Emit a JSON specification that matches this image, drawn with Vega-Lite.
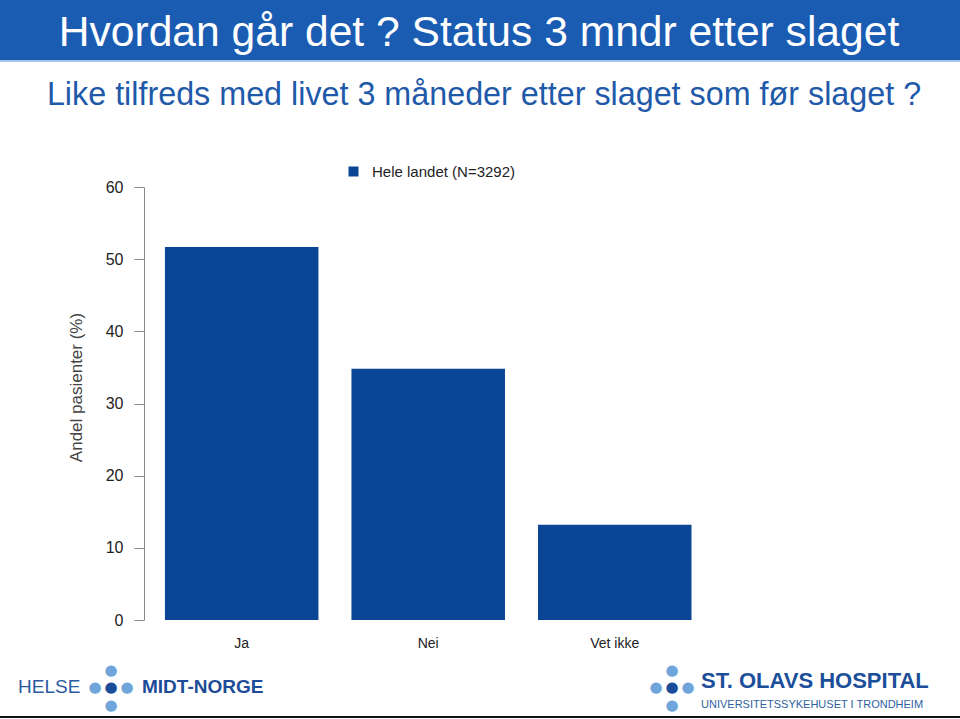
{
  "$schema": "https://vega.github.io/schema/vega-lite/v6.json",
  "padding": 0,
  "spacing": 0,
  "bounds": "flush",
  "background": "white",
  "config": {"font": "Liberation Sans", "view": {"stroke": null}},
  "resolve": {"scale": {"color": "independent", "x": "independent", "y": "independent"}, "legend": {"color": "independent"}},
  "datasets": {
    "answers": [
      {"svar": "Ja", "andel": 51.7, "gruppe": "Hele landet (N=3292)"},
      {"svar": "Nei", "andel": 34.8, "gruppe": "Hele landet (N=3292)"},
      {"svar": "Vet ikke", "andel": 13.2, "gruppe": "Hele landet (N=3292)"}
    ],
    "header": [{"tekst": "Hvordan går det ? Status 3 mndr etter slaget"}],
    "subtitle": [{"tekst": "Like tilfreds med livet 3 måneder etter slaget som før slaget ?"}],
    "footer": [
      {"logo": "left", "row": "mid", "part": "helse", "tekst": "HELSE"},
      {"logo": "left", "row": "mid", "part": "midtnorge", "tekst": "MIDT-NORGE"},
      {"logo": "right", "row": "mid", "part": "stolavs", "tekst": "ST. OLAVS HOSPITAL"},
      {"logo": "right", "row": "bot", "part": "tagline", "tekst": "UNIVERSITETSSYKEHUSET I TRONDHEIM"},
      {"logo": "left", "row": "top", "part": "dotcol", "tone": "light", "tekst": "●"},
      {"logo": "left", "row": "mid", "part": "dotcol", "tone": "dark", "tekst": "●"},
      {"logo": "left", "row": "bot", "part": "dotcol", "tone": "light", "tekst": "●"},
      {"logo": "right", "row": "top", "part": "dotcol", "tone": "light", "tekst": "●"},
      {"logo": "right", "row": "mid", "part": "dotcol", "tone": "dark", "tekst": "●"},
      {"logo": "right", "row": "bot", "part": "dotcol", "tone": "light", "tekst": "●"},
      {"logo": "left", "row": "mid", "part": "dotleft", "tone": "light", "tekst": "●"},
      {"logo": "right", "row": "mid", "part": "dotleft", "tone": "light", "tekst": "●"},
      {"logo": "left", "row": "mid", "part": "dotright", "tone": "light", "tekst": "●"},
      {"logo": "right", "row": "mid", "part": "dotright", "tone": "light", "tekst": "●"}
    ],
    "spacer": [{"part": "spacer"}],
    "headerline": [{"part": "line"}],
    "bottomline": [{"part": "line"}]
  },
  "vconcat": [
    {
      "width": 960,
      "height": 60,
      "view": {"fill": "#1b5cb3", "stroke": null},
      "data": {"name": "header"},
      "mark": {"type": "text", "color": "white", "fontSize": 42.6, "baseline": "alphabetic", "align": "center", "dy": 16, "dx": -1},
      "encoding": {"text": {"field": "tekst"}}
    },
    {
      "width": 960,
      "height": 2,
      "view": {"fill": "#a9c4e8", "stroke": null},
      "data": {"name": "headerline"},
      "mark": {"type": "text", "text": ""},
      "encoding": {}
    },
    {
      "width": 960,
      "height": 125,
      "data": {"name": "subtitle"},
      "mark": {"type": "text", "color": "#1f5aaa", "fontSize": 32.3, "baseline": "alphabetic", "align": "center", "dy": -19.5, "dx": 4},
      "encoding": {"text": {"field": "tekst"}}
    },
    {
      "width": 712,
      "height": 433,
      "data": {"name": "answers"},
      "mark": {"type": "bar"},
      "encoding": {
        "x": {
          "field": "svar", "type": "nominal", "sort": ["Ja", "Nei", "Vet ikke"],
          "scale": {"paddingInner": 0.177, "paddingOuter": 0.497, "align": 0.8895},
          "axis": {"title": null, "labelAngle": 0, "domain": false, "ticks": false, "labelPadding": 16, "labelFontSize": 14, "labelColor": "#222222"}
        },
        "y": {
          "field": "andel", "type": "quantitative",
          "scale": {"domain": [0, 60], "nice": false},
          "axis": {
            "title": "Andel pasienter (%)", "values": [0, 10, 20, 30, 40, 50, 60], "offset": -144, "grid": false,
            "domainColor": "#8a8a8a", "tickColor": "#8a8a8a", "tickSize": 10, "labelPadding": 11, "labelFontSize": 16,
            "labelColor": "#222222", "titleFontSize": 17, "titleFontWeight": "normal", "titleColor": "#444444",
            "titlePadding": 20, "titleY": 200
          }
        },
        "color": {
          "field": "gruppe", "type": "nominal",
          "scale": {"range": ["#0b4595"]},
          "legend": {"title": null, "orient": "none", "legendX": 346, "legendY": -23, "symbolType": "square", "symbolSize": 100, "symbolStrokeWidth": 0, "labelFontSize": 15, "labelColor": "#222222", "labelOffset": 11, "padding": 0}
        }
      }
    },
    {
      "width": 960,
      "height": 40,
      "data": {"name": "spacer"},
      "mark": {"type": "text", "text": ""},
      "encoding": {}
    },
    {
      "width": 960,
      "height": 56,
      "data": {"name": "footer"},
      "encoding": {
        "x": {"field": "logo", "type": "nominal", "scale": {"type": "point", "domain": ["left", "right"], "padding": 0.3556, "align": 0.2782}, "axis": null},
        "y": {"field": "row", "type": "nominal", "scale": {"type": "point", "domain": ["top", "mid", "bot"], "padding": 0.6, "align": 0.476}, "axis": null},
        "text": {"field": "tekst"}
      },
      "layer": [
        {"transform": [{"filter": "datum.part === 'helse'"}], "mark": {"type": "text", "align": "left", "baseline": "middle", "dx": -93, "fontSize": 19, "color": "#2c5a9f"}},
        {"transform": [{"filter": "datum.part === 'midtnorge'"}], "mark": {"type": "text", "align": "left", "baseline": "middle", "dx": 31, "fontSize": 19, "fontWeight": "bold", "color": "#1c4c97"}},
        {"transform": [{"filter": "datum.part === 'stolavs'"}], "mark": {"type": "text", "align": "left", "baseline": "middle", "dx": 29, "dy": -6, "fontSize": 22, "fontWeight": "bold", "color": "#1c4f9a"}},
        {"transform": [{"filter": "datum.part === 'tagline'"}], "mark": {"type": "text", "align": "left", "baseline": "middle", "dx": 29, "fontSize": 11, "color": "#2f5f9f"}},
        {"transform": [{"filter": "datum.part === 'dotcol'"}], "mark": {"type": "text", "align": "center", "baseline": "middle", "font": "DejaVu Sans", "fontSize": 15},
         "encoding": {"color": {"field": "tone", "type": "nominal", "scale": {"domain": ["light", "dark"], "range": ["#6fa5da", "#1a4d99"]}, "legend": null}}},
        {"transform": [{"filter": "datum.part === 'dotleft'"}], "mark": {"type": "text", "align": "center", "baseline": "middle", "font": "DejaVu Sans", "fontSize": 15, "dx": -16, "color": "#6fa5da"}},
        {"transform": [{"filter": "datum.part === 'dotright'"}], "mark": {"type": "text", "align": "center", "baseline": "middle", "font": "DejaVu Sans", "fontSize": 15, "dx": 16, "color": "#6fa5da"}}
      ]
    },
    {
      "width": 960,
      "height": 2,
      "view": {"fill": "#111111", "stroke": null},
      "data": {"name": "bottomline"},
      "mark": {"type": "text", "text": ""},
      "encoding": {}
    }
  ]
}
